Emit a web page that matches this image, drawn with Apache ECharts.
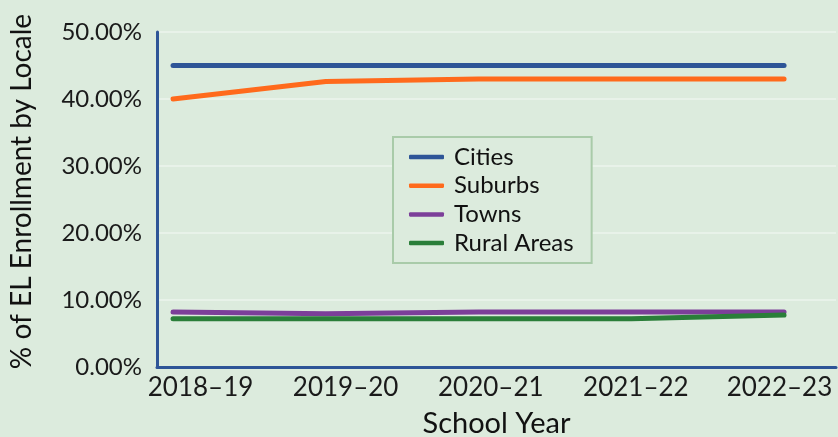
<!DOCTYPE html>
<html><head><meta charset="utf-8">
<script src="https://cdn.jsdelivr.net/npm/echarts@6/dist/echarts.min.js"></script>
<style>html,body{margin:0;padding:0;background:#dcebdd;}#c{width:838px;height:437px;}</style>
</head><body><div id="c"></div>
<script>
const categories = ['2018\u201319','2019\u201320','2020\u201321','2021\u201322','2022\u201323'];
const cities = [0.45, 0.45, 0.45, 0.45, 0.45];
const suburbs = [0.40, 0.426, 0.43, 0.43, 0.43];
const towns = [0.082, 0.0795, 0.082, 0.082, 0.082];
const rural = [0.072, 0.072, 0.072, 0.072, 0.0775];
const xLabelPos = [0.18, 1.13, 2.08, 3.03, 3.97];

const font = 'Lato';
const chart = echarts.init(document.getElementById('c'));
function ser(name, data, color){
  return {name, type:'line', data: data.map((v,i)=>[i,v]), symbol:'none',
    lineStyle:{color, width:5, cap:'round', join:'round'}, itemStyle:{color}};
}
chart.setOption({
  backgroundColor:'#dcebdd',
  animation:false,
  grid:{left:157, right:2, top:32, bottom:70, outerBoundsMode:'none', containLabel:false},
  xAxis:{type:'value', min:-0.105, max:4.34,
    name:'School Year', nameLocation:'middle', nameGap:42,
    nameTextStyle:{fontFamily:font, fontSize:29, color:'#111'},
    axisLine:{show:true, onZero:false, lineStyle:{color:'#2e5597', width:3}},
    axisTick:{show:false},
    splitLine:{show:false},
    axisLabel:{customValues:xLabelPos, formatter:v=>categories[Math.round(v)], fontFamily:font, fontSize:26, color:'#1a1a1a', margin:8}
  },
  yAxis:{type:'value', min:0, max:0.5, interval:0.1,
    name:'% of EL Enrollment by Locale', nameLocation:'middle', nameGap:121,
    nameTextStyle:{fontFamily:font, fontSize:28, color:'#111', padding:[0,0,0,16]},
    axisLine:{show:true, onZero:false, lineStyle:{color:'#2e5597', width:3}},
    axisTick:{show:false},
    splitLine:{lineStyle:{color:'#ecf4ec', width:1.5}},
    axisLabel:{formatter:v=>(v*100).toFixed(2)+'%', fontFamily:font, fontSize:24, color:'#1a1a1a', margin:15}
  },
  legend:{orient:'vertical', left:393, top:137,
    padding:[8,18,8,16], itemGap:4.7, itemWidth:35, itemHeight:4.5,
    borderColor:'#a9cba9', borderWidth:2, backgroundColor:'#dcebdd',
    textStyle:{fontFamily:font, fontSize:24, color:'#111', padding:[0,0,0,5]},
    data:[{name:'Cities',icon:'roundRect'},{name:'Suburbs',icon:'roundRect'},{name:'Towns',icon:'roundRect'},{name:'Rural Areas',icon:'roundRect'}]
  },
  series:[ser('Cities',cities,'#2e5597'), ser('Suburbs',suburbs,'#ff6a1c'), ser('Towns',towns,'#7c3f99'), ser('Rural Areas',rural,'#2a7e39')]
});
</script></body></html>
